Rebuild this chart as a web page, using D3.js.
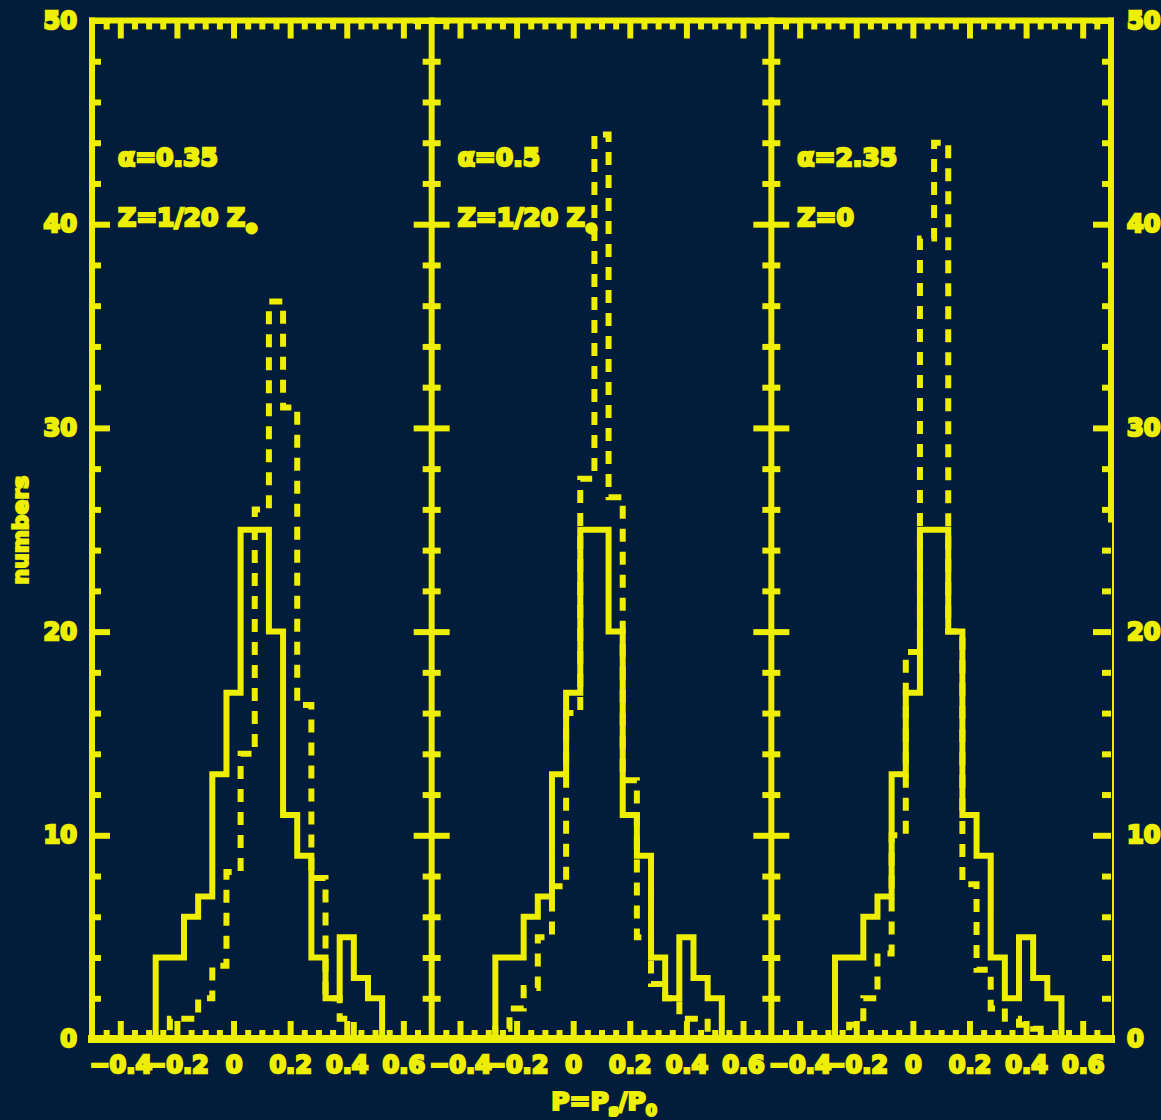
<!DOCTYPE html>
<html>
<head>
<meta charset="utf-8">
<script src="https://cdn.jsdelivr.net/npm/d3@7"></script>
<style>
  html, body { margin: 0; padding: 0; background: #011d3b; }
  text { font-family: "DejaVu Sans", "Liberation Sans", sans-serif; font-weight: bold; }
</style>
</head>
<body>
<script>
// ---------- data ----------
const binCenters = [-0.25, -0.2, -0.15, -0.1, -0.05, 0, 0.05, 0.1, 0.15, 0.2, 0.25, 0.3, 0.35, 0.4, 0.45, 0.5];
const binWidth = 0.05;
const solidCounts = [4, 4, 6, 7, 13, 17, 25, 25, 20, 11, 9, 4, 2, 5, 3, 2];
const dashedPanel1 = [0, 1, 1, 2, 3.6, 8.2, 14, 26, 36.2, 31, 16.4, 7.9, 2, 1, 0, 0];
const dashedPanel2 = [0.5, 1.5, 2.5, 5, 7.5, 16, 27.5, 44.4, 26.6, 12.7, 5, 2.7, 2, 1, 1, 0];
const dashedPanel3 = [0, 0.7, 2, 4.2, 10, 19, 39.3, 44, 20, 7.6, 3.4, 1.5, 1, 0.7, 0.5, 0];
const dashedSeries = [dashedPanel1, dashedPanel2, dashedPanel3];
const alphaLabels = ["α=0.35", "α=0.5", "α=2.35"];
const zLabels = ["Z=1/20 Z", "Z=1/20 Z", "Z=0"];
const zSunSub = [true, true, false];
const xMajorTicks = [-0.4, -0.2, 0, 0.2, 0.4, 0.6];
const xMinorTicks = [-0.45, -0.35, -0.3, -0.25, -0.15, -0.1, -0.05, 0.05, 0.1, 0.15, 0.25, 0.3, 0.35, 0.45, 0.5, 0.55, 0.65];
const yMajorTicks = [0, 10, 20, 30, 40, 50];
const yMinorTicks = [2, 4, 6, 8, 12, 14, 16, 18, 22, 24, 26, 28, 32, 34, 36, 38, 42, 44, 46, 48];
const xDomain = [-0.5, 0.7];
const yDomain = [0, 50];
const yTitle = "numbers";

// ---------- layout ----------
const W = 1161, H = 1120;
const L = 92, R = 1111, T = 20.5, B = 1039;
const pw = (R - L) / 3;
const YEL = "#eeee00";
const BG = "#011d3b";

const svg = d3.select("body").append("svg").attr("width", W).attr("height", H);
svg.append("rect").attr("width", W).attr("height", H).attr("fill", BG);

const y = d3.scaleLinear().domain(yDomain).range([B, T]);

function styleAxis(g, sw) {
  g.select(".domain").remove();
  g.selectAll(".tick line").attr("stroke", YEL).attr("stroke-width", sw);
  g.selectAll(".tick text").attr("fill", YEL).attr("stroke", YEL).attr("stroke-width", 2.4)
    .style("font-size", "24px").style("font-weight", "bold");
}

const fmtX = d => d === 0 ? "0" : d3.format(".1f")(d);

for (let i = 0; i < 3; i++) {
  const x0 = L + i * pw, x1 = L + (i + 1) * pw;
  const x = d3.scaleLinear().domain(xDomain).range([x0, x1]);
  const g = svg.append("g");

  // bottom axis
  g.append("g").attr("transform", `translate(0,${B})`)
    .call(d3.axisBottom(x).tickValues(xMinorTicks).tickSizeInner(-9).tickSizeOuter(0).tickFormat(""))
    .call(s => styleAxis(s, 6));
  g.append("g").attr("transform", `translate(0,${B})`)
    .call(d3.axisBottom(x).tickValues(xMajorTicks).tickSizeInner(-18).tickSizeOuter(0).tickPadding(17).tickFormat(fmtX))
    .call(s => styleAxis(s, 6));
  // top axis
  g.append("g").attr("transform", `translate(0,${T})`)
    .call(d3.axisTop(x).tickValues(xMinorTicks).tickSizeInner(-9).tickSizeOuter(0).tickFormat(""))
    .call(s => styleAxis(s, 6));
  g.append("g").attr("transform", `translate(0,${T})`)
    .call(d3.axisTop(x).tickValues(xMajorTicks).tickSizeInner(-18).tickSizeOuter(0).tickFormat(""))
    .call(s => styleAxis(s, 6));
  // left axis
  g.append("g").attr("transform", `translate(${x0},0)`)
    .call(d3.axisLeft(y).tickValues(yMinorTicks).tickSizeInner(-9).tickSizeOuter(0).tickFormat(""))
    .call(s => styleAxis(s, 6));
  g.append("g").attr("transform", `translate(${x0},0)`)
    .call(d3.axisLeft(y).tickValues(yMajorTicks).tickSizeInner(-18).tickSizeOuter(0).tickPadding(15)
      .tickFormat(i === 0 ? d3.format("d") : ""))
    .call(s => styleAxis(s, 6));
  // right axis
  g.append("g").attr("transform", `translate(${x1},0)`)
    .call(d3.axisRight(y).tickValues(yMinorTicks).tickSizeInner(-9).tickSizeOuter(0).tickFormat(""))
    .call(s => styleAxis(s, 6));
  g.append("g").attr("transform", `translate(${x1},0)`)
    .call(d3.axisRight(y).tickValues(yMajorTicks).tickSizeInner(-18).tickSizeOuter(0).tickPadding(16)
      .tickFormat(i === 2 ? d3.format("d") : ""))
    .call(s => styleAxis(s, 6));

  // histograms
  const stepLine = d3.line().x(d => x(d[0])).y(d => y(d[1])).curve(d3.curveStepAfter);
  function histPoints(vals) {
    const pts = [[binCenters[0] - binWidth / 2, 0]];
    vals.forEach((v, k) => pts.push([binCenters[k] - binWidth / 2, v]));
    pts.push([binCenters[binCenters.length - 1] + binWidth / 2, 0]);
    return pts;
  }
  g.append("path").attr("d", stepLine(histPoints(dashedSeries[i])))
    .attr("fill", "none").attr("stroke", YEL).attr("stroke-width", 6)
    .attr("stroke-dasharray", "13,10").attr("stroke-linejoin", "miter");
  g.append("path").attr("d", stepLine(histPoints(solidCounts)))
    .attr("fill", "none").attr("stroke", YEL).attr("stroke-width", 6).attr("stroke-linejoin", "miter");

  // annotations
  g.append("text").attr("x", x0 + 26).attr("y", 166).attr("fill", YEL)
    .attr("stroke", YEL).attr("stroke-width", 2.4).style("font-size", "25px").text(alphaLabels[i]);
  const zt = g.append("text").attr("x", x0 + 26).attr("y", 226).attr("fill", YEL)
    .attr("stroke", YEL).attr("stroke-width", 2.4).style("font-size", "25px");
  zt.append("tspan").text(zLabels[i]);
  if (zSunSub[i]) zt.append("tspan").attr("dy", 7).style("font-size", "15px").text("⊙");
}

// frame
const frame = svg.append("g").attr("stroke", YEL).attr("fill", "none").attr("stroke-linecap", "square");
frame.append("line").attr("x1", L).attr("x2", R).attr("y1", T).attr("y2", T).attr("stroke-width", 6);
frame.append("line").attr("x1", L).attr("x2", R).attr("y1", B).attr("y2", B).attr("stroke-width", 8);
for (let i = 0; i < 3; i++) {
  frame.append("line").attr("x1", L + i * pw).attr("x2", L + i * pw).attr("y1", T).attr("y2", B).attr("stroke-width", 6);
}
frame.append("line").attr("x1", R).attr("x2", R).attr("y1", T).attr("y2", y(25.5)).attr("stroke-width", 6);
frame.append("line").attr("x1", R + 2).attr("x2", R + 2).attr("y1", y(25.5)).attr("y2", B).attr("stroke-width", 2);

// axis titles
svg.append("text").attr("transform", `translate(28,530) rotate(-90)`).attr("text-anchor", "middle")
  .attr("fill", YEL).attr("stroke", YEL).attr("stroke-width", 2).style("font-size", "22px").text(yTitle);
const xt = svg.append("text").attr("x", 604).attr("y", 1110).attr("text-anchor", "middle")
  .attr("fill", YEL).attr("stroke", YEL).attr("stroke-width", 2.2).style("font-size", "25px");
xt.append("tspan").text("P=P");
xt.append("tspan").attr("dy", 6).style("font-size", "16px").text("s");
xt.append("tspan").attr("dy", -6).text("/P");
xt.append("tspan").attr("dy", 6).style("font-size", "16px").text("0");
</script>
</body>
</html>
